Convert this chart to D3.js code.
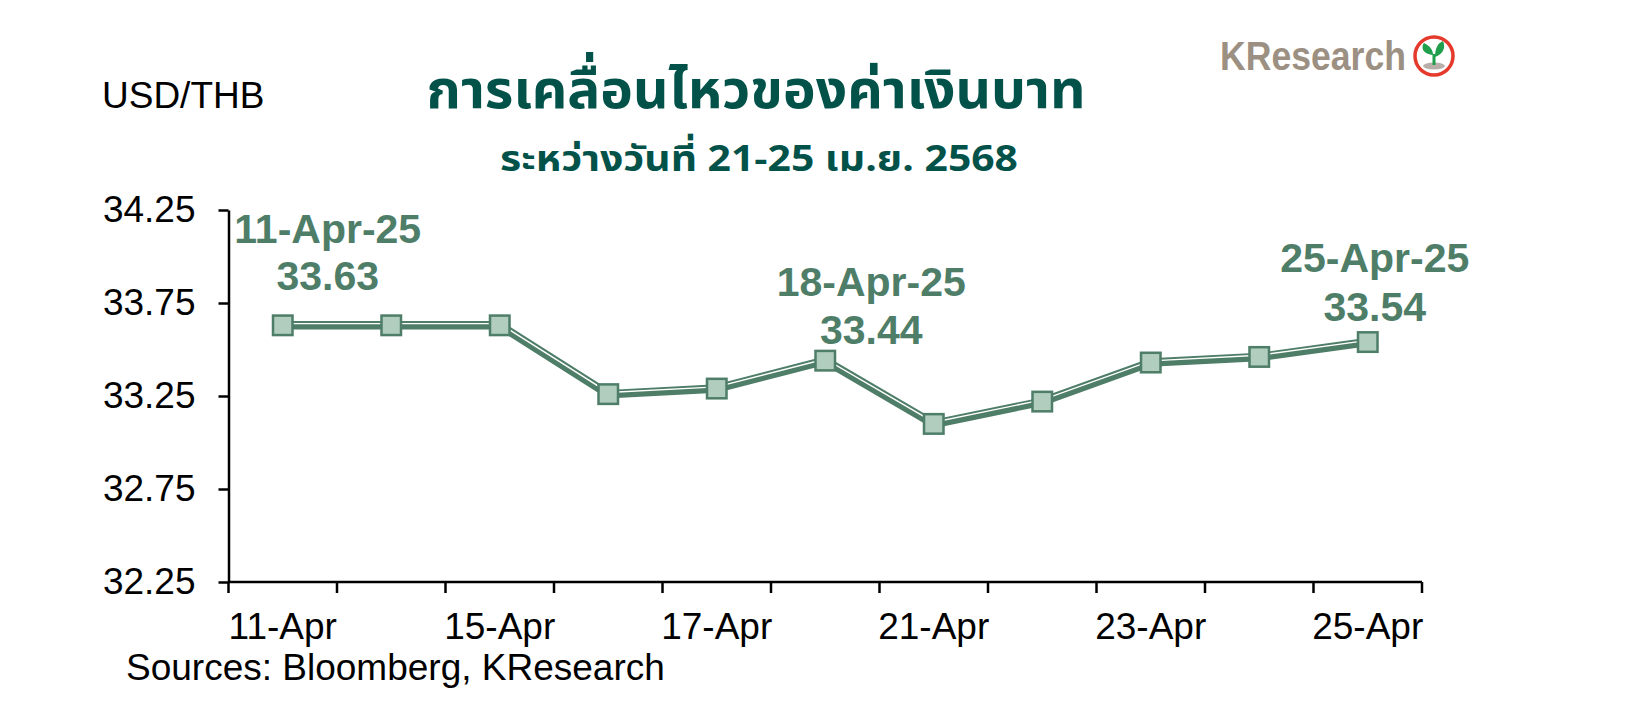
<!DOCTYPE html>
<html>
<head>
<meta charset="utf-8">
<script src="https://cdn.jsdelivr.net/npm/d3@7"></script>
<style>
html,body{margin:0;padding:0;background:#fff;}
svg{display:block;}
</style>
</head>
<body>
<svg id="chart" width="1649" height="714"></svg>
<script>
// ---- data ----
const categories = ["11-Apr","14-Apr","15-Apr","16-Apr","17-Apr","18-Apr","21-Apr","22-Apr","23-Apr","24-Apr","25-Apr"];
const usdthb = [33.63, 33.63, 33.63, 33.26, 33.29, 33.44, 33.10, 33.22, 33.43, 33.46, 33.54];
const xTickLabels = ["11-Apr","15-Apr","17-Apr","21-Apr","23-Apr","25-Apr"];
const yTickValues = [32.25, 32.75, 33.25, 33.75, 34.25];
const yDomain = [32.25, 34.25];
const annotatedIdx = [0, 5, 10];
const annotatedDates = ["11-Apr-25", "18-Apr-25", "25-Apr-25"];
const titleText = "การเคลื่อนไหวของค่าเงินบาท";
const subtitleText = "ระหว่างวันที่ 21-25 เม.ย. 2568";
const unitText = "USD/THB";
const sourceText = "Sources: Bloomberg, KResearch";
const logoText = "KResearch";

// ---- layout ----
const svg = d3.select("#chart");
const plot = {left: 228.5, right: 1422, top: 210, bottom: 582};
const labelOffsets = [[45, -82, -35.5], [46, -65, -16.5], [7, -70, -21.5]];
const green = "#4E7D68", markerFill = "#B0CDBE", titleColor = "#02524A";
const axisFont = "'Liberation Sans', Arial, sans-serif";
const axisSize = 37;
const thaiFont = "'Noto Sans Thai', 'Noto Sans Thai UI', 'Loma', 'Garuda', 'Tahoma', 'Noto Sans', 'DejaVu Sans', sans-serif";

const x = d3.scaleBand().domain(categories).range([plot.left, plot.right]).padding(0);
const y = d3.scaleLinear().domain(yDomain).range([plot.bottom, plot.top]);

// titles
let tSize = 58, sSize = 38, sY = 168;
const title = svg.append("text").attr("x", 756).attr("y", 108).attr("text-anchor", "middle")
  .attr("font-family", thaiFont).attr("font-weight", "bold").attr("font-size", tSize)
  .attr("fill", titleColor).attr("textLength", 659).attr("lengthAdjust", "spacingAndGlyphs")
  .text(titleText);
const subtitle = svg.append("text").attr("x", 759).attr("y", sY).attr("text-anchor", "middle")
  .attr("font-family", thaiFont).attr("font-weight", "bold").attr("font-size", sSize)
  .attr("fill", titleColor).attr("textLength", 518).attr("lengthAdjust", "spacingAndGlyphs")
  .text(subtitleText);
// keep the two text boxes apart: nudge the subtitle down a little, then shrink the title
for (let k = 0; k < 30; k++) {
  const a = title.node().getBBox(), b = subtitle.node().getBBox();
  if (a.y + a.height <= b.y - 0.5) break;
  if (sY < 171) { sY += 1; subtitle.attr("y", sY); }
  else if (k % 2 === 0 && sSize > 35) { sSize -= 0.5; subtitle.attr("font-size", sSize); }
  else { tSize -= 1; title.attr("font-size", tSize); }
}

svg.append("text").attr("x", 102).attr("y", 108)
  .attr("font-family", axisFont).attr("font-size", axisSize).attr("fill", "#000")
  .text(unitText);

// logo
const logo = svg.append("g");
logo.append("text").attr("x", 1220).attr("y", 70)
  .attr("font-family", "'Liberation Sans Narrow', 'Liberation Sans', Arial, sans-serif")
  .attr("font-weight", "bold").attr("font-size", 40).attr("fill", "#9C9083")
  .attr("textLength", 186).attr("lengthAdjust", "spacingAndGlyphs")
  .text(logoText);
const lc = {x: 1434, y: 56};
logo.append("circle").attr("cx", lc.x).attr("cy", lc.y).attr("r", 19)
  .attr("fill", "#fff").attr("stroke", "#E5392B").attr("stroke-width", 3.5);
logo.append("ellipse").attr("cx", lc.x).attr("cy", lc.y + 10).attr("rx", 11).attr("ry", 3.5).attr("fill", "#B8B0A8");
logo.append("path").attr("d", `M${lc.x},${lc.y+9} L${lc.x},${lc.y-2}`).attr("stroke", "#1F9E4B").attr("stroke-width", 3);
logo.append("path").attr("d", `M${lc.x-1},${lc.y-1} C${lc.x-12},${lc.y-2} ${lc.x-13},${lc.y-9} ${lc.x-10},${lc.y-13} C${lc.x-4},${lc.y-10} ${lc.x-1},${lc.y-6} ${lc.x-1},${lc.y-1}Z`).attr("fill", "#1F9E4B");
logo.append("path").attr("d", `M${lc.x+1},${lc.y+1} C${lc.x+1},${lc.y-8} ${lc.x+4},${lc.y-13} ${lc.x+9},${lc.y-15} C${lc.x+12},${lc.y-8} ${lc.x+9},${lc.y-2} ${lc.x+1},${lc.y+1}Z`).attr("fill", "#1F9E4B");

// y axis
const yAxis = d3.axisLeft(y).tickValues(yTickValues).tickSize(10).tickSizeOuter(0).tickPadding(23)
  .tickFormat(d3.format(".2f"));
const gy = svg.append("g").attr("transform", `translate(${plot.left},0)`).call(yAxis);
gy.select(".domain").attr("stroke", "#000").attr("stroke-width", 2.5);
gy.selectAll(".tick line").attr("stroke", "#000").attr("stroke-width", 2.5);
gy.selectAll(".tick text").attr("font-family", axisFont).attr("font-size", axisSize).attr("fill", "#000");

// x axis: labels at band centers
const xAxis = d3.axisBottom(x).tickValues(xTickLabels).tickSize(0).tickSizeOuter(0).tickPadding(0);
const gx = svg.append("g").attr("transform", `translate(0,${plot.bottom})`).call(xAxis);
gx.select(".domain").attr("stroke", "#000").attr("stroke-width", 2.5).attr("d", `M${plot.left},0H${plot.right}`);
gx.selectAll(".tick text").attr("font-family", axisFont).attr("font-size", axisSize).attr("fill", "#000")
  .attr("dy", null).attr("y", 57);
// tick marks at band boundaries
const boundaries = categories.map(c => x(c)).concat([x(categories[categories.length - 1]) + x.bandwidth()]);
gx.selectAll(".bnd").data(boundaries).enter().append("line").attr("class", "bnd")
  .attr("x1", d => d).attr("x2", d => d).attr("y1", 0).attr("y2", 11)
  .attr("stroke", "#000").attr("stroke-width", 2.5);

svg.append("text").attr("x", 126).attr("y", 680)
  .attr("font-family", axisFont).attr("font-size", axisSize).attr("fill", "#000")
  .text(sourceText);

// line
const pts = categories.map((c, i) => [x(c) + x.bandwidth() / 2, y(usdthb[i])]);
const line = d3.line();
svg.append("path").attr("d", line(pts)).attr("fill", "none")
  .attr("stroke", green).attr("stroke-width", 8.5).attr("stroke-linejoin", "miter");
svg.append("path").attr("d", line(pts)).attr("fill", "none")
  .attr("stroke", "#fff").attr("stroke-width", 1.4).attr("transform", "translate(0,-1.7)");

// markers
svg.selectAll(".mk").data(usdthb).enter().append("rect").attr("class", "mk")
  .attr("x", (d, i) => x(categories[i]) + x.bandwidth() / 2 - 9.75)
  .attr("y", d => y(d) - 9.75)
  .attr("width", 19.5).attr("height", 19.5)
  .attr("fill", markerFill).attr("stroke", green).attr("stroke-width", 2.5);

// annotations
annotatedIdx.forEach((idx, k) => {
  const cx = x(categories[idx]) + x.bandwidth() / 2, cy = y(usdthb[idx]);
  const off = labelOffsets[k];
  const t = svg.append("text").attr("text-anchor", "middle")
    .attr("font-family", axisFont).attr("font-weight", "bold").attr("font-size", 41).attr("fill", green);
  t.append("tspan").attr("x", cx + off[0]).attr("y", cy + off[1]).text(annotatedDates[k]);
  t.append("tspan").attr("x", cx + off[0]).attr("y", cy + off[2]).text(d3.format(".2f")(usdthb[idx]));
});
</script>
</body>
</html>
